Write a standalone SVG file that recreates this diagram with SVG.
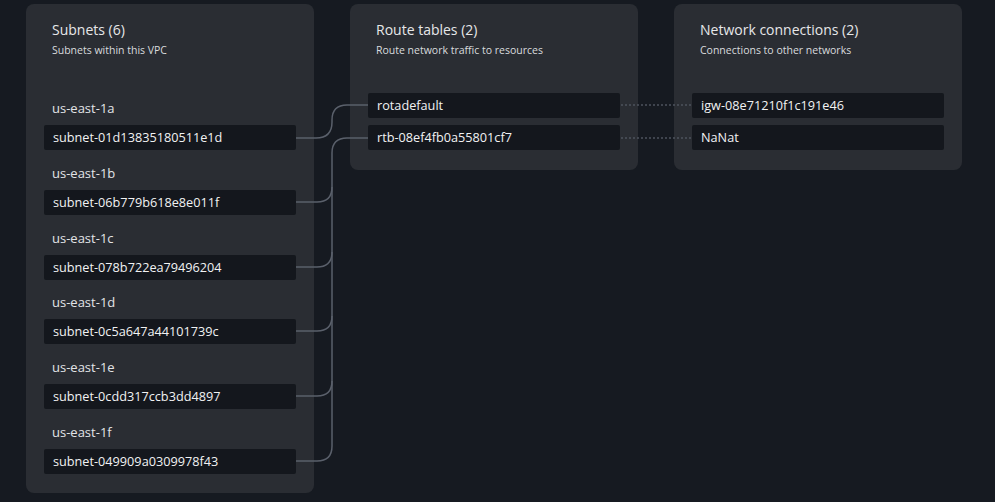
<svg xmlns="http://www.w3.org/2000/svg" width="995" height="502" viewBox="0 0 995 502">
<style>
.panel{fill:#2a2d33}
.box{fill:#14171d}
.title{font-family:"Open Sans","Noto Sans",sans-serif;font-size:14px;fill:#e6e7e9}
.sub{font-family:"Open Sans","Noto Sans",sans-serif;font-size:10.5px;fill:#d9dbde}
.lbl{font-family:"Open Sans","Noto Sans",sans-serif;font-size:13px;fill:#e2e4e7}
.t{font-family:"Open Sans","Noto Sans",sans-serif;font-size:12.7px;fill:#f1f2f3}
.c{fill:none;stroke:#5a606b;stroke-width:1.5}
.d{fill:none;stroke:#4d535d;stroke-width:1.5;stroke-dasharray:2 2}
</style>
<rect width="995" height="502" fill="#161a21"/>
<g id="panel-subnets">
<rect class="panel" x="26" y="4" width="288" height="489" rx="8"/>
<text class="title" x="52" y="35">Subnets (6)</text>
<text class="sub" x="52" y="54">Subnets within this VPC</text>
</g>
<g id="panel-routes">
<rect class="panel" x="350" y="4" width="288" height="166" rx="8"/>
<text class="title" x="376" y="35">Route tables (2)</text>
<text class="sub" x="376" y="54">Route network traffic to resources</text>
</g>
<g id="panel-network">
<rect class="panel" x="674" y="4" width="288" height="166" rx="8"/>
<text class="title" x="700" y="35">Network connections (2)</text>
<text class="sub" x="700" y="54">Connections to other networks</text>
</g>
<g id="connectors">
<path class="c" d="M296 138 H316 Q332 138 332 122 V120 Q332 105 347 105 H368"/>
<path class="c" d="M368 138 H347 Q332 138 332 153 V446 Q332 461 317 461 H296"/>
<path class="c" d="M296 202 H317 Q332 202 332 187"/>
<path class="c" d="M296 267 H317 Q332 267 332 252"/>
<path class="c" d="M296 331 H317 Q332 331 332 316"/>
<path class="c" d="M296 396 H317 Q332 396 332 381"/>
<path class="d" d="M621 105 H692"/>
<path class="d" d="M621 138 H692"/>
</g>
<g id="subnet-1a">
<text class="lbl" x="52" y="113">us-east-1a</text>
<rect class="box" x="44" y="125" width="252" height="25" rx="2"/>
<text class="t" x="53" y="142">subnet-01d13835180511e1d</text>
</g>
<g id="subnet-1b">
<text class="lbl" x="52" y="178">us-east-1b</text>
<rect class="box" x="44" y="190" width="252" height="25" rx="2"/>
<text class="t" x="53" y="207">subnet-06b779b618e8e011f</text>
</g>
<g id="subnet-1c">
<text class="lbl" x="52" y="243">us-east-1c</text>
<rect class="box" x="44" y="255" width="252" height="25" rx="2"/>
<text class="t" x="53" y="272">subnet-078b722ea79496204</text>
</g>
<g id="subnet-1d">
<text class="lbl" x="52" y="307">us-east-1d</text>
<rect class="box" x="44" y="319" width="252" height="25" rx="2"/>
<text class="t" x="53" y="336">subnet-0c5a647a44101739c</text>
</g>
<g id="subnet-1e">
<text class="lbl" x="52" y="372">us-east-1e</text>
<rect class="box" x="44" y="384" width="252" height="25" rx="2"/>
<text class="t" x="53" y="401">subnet-0cdd317ccb3dd4897</text>
</g>
<g id="subnet-1f">
<text class="lbl" x="52" y="437">us-east-1f</text>
<rect class="box" x="44" y="449" width="252" height="25" rx="2"/>
<text class="t" x="53" y="466">subnet-049909a0309978f43</text>
</g>
<g id="rt-rotadefault">
<rect class="box" x="368" y="93" width="252" height="25" rx="2"/>
<text class="t" x="377" y="110">rotadefault</text>
</g>
<g id="rt-rtb">
<rect class="box" x="368" y="125" width="252" height="25" rx="2"/>
<text class="t" x="377" y="142">rtb-08ef4fb0a55801cf7</text>
</g>
<g id="nc-igw">
<rect class="box" x="692" y="93" width="252" height="25" rx="2"/>
<text class="t" x="701" y="110">igw-08e71210f1c191e46</text>
</g>
<g id="nc-nat">
<rect class="box" x="692" y="125" width="252" height="25" rx="2"/>
<text class="t" x="701" y="142">NaNat</text>
</g>
</svg>
